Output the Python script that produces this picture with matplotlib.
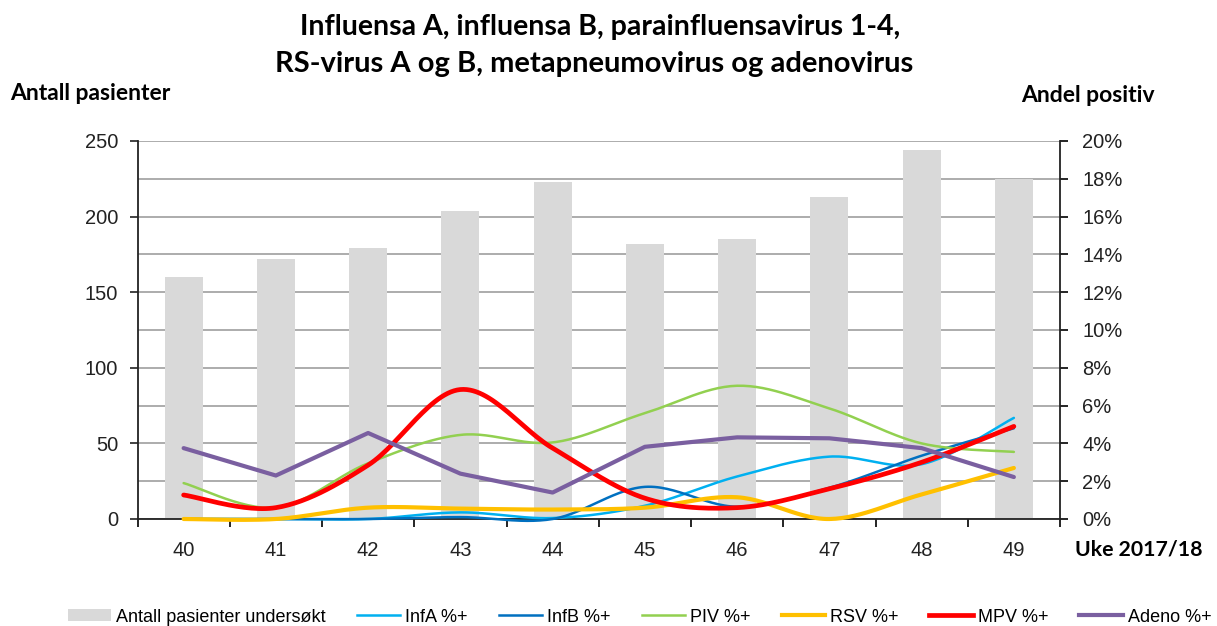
import numpy as np
import matplotlib
matplotlib.use("Agg")
import matplotlib.pyplot as plt
from matplotlib.patches import Patch
from matplotlib.lines import Line2D

# weeks and number of patients tested (left axis)
weeks = ["40", "41", "42", "43", "44", "45", "46", "47", "48", "49"]
patients = [160, 172, 179, 204, 223, 182, 185, 213, 244, 225]

# share positive, percent (right axis)
infA = [0, 0, 0, 0.35, 0.05, 0.7, 2.25, 3.3, 2.9, 5.35]
infB = [0, 0, 0, 0.1, 0, 1.7, 0.65, 1.65, 3.35, 4.8]
piv = [1.9, 0.6, 2.95, 4.45, 4.05, 5.6, 7.05, 5.85, 4.0, 3.55]
rsv = [0, 0, 0.6, 0.55, 0.5, 0.6, 1.15, 0, 1.3, 2.7]
mpv = [1.27, 0.6, 2.85, 6.85, 3.75, 1.1, 0.6, 1.6, 3.0, 4.9]
adeno = [3.75, 2.3, 4.55, 2.4, 1.4, 3.82, 4.32, 4.27, 3.75, 2.22]

head_font = "Lato"
tick_font = "Liberation Sans"


def smooth(xs, ys, n=30):
    # excel style smoothed line (bezier through the points)
    pts = np.column_stack([xs, ys]).astype(float)
    padded = np.vstack([pts[0], pts, pts[-1]])
    t = np.linspace(0, 1, n)[:, None]
    out = []
    for i in range(len(pts) - 1):
        p0, p1, p2, p3 = padded[i:i + 4]
        c1 = p1 + (p2 - p0) / 6
        c2 = p2 - (p3 - p1) / 6
        seg = (1 - t) ** 3 * p1 + 3 * (1 - t) ** 2 * t * c1 + 3 * (1 - t) * t ** 2 * c2 + t ** 3 * p2
        out.append(seg if i == 0 else seg[1:])
    out = np.vstack(out)
    return out[:, 0], out[:, 1]


fig = plt.figure(figsize=(12.17, 6.26), dpi=100)
ax = fig.add_axes([137.5 / 1217, 1 - 519 / 626, (1060 - 137.5) / 1217, 378 / 626])
x = np.arange(len(weeks))

ax.bar(x, patients, width=0.41, color="#D9D9D9", zorder=2)
ax.set_xlim(-0.5, len(weeks) - 0.5)
ax.set_ylim(0, 250)
ax.set_yticks(range(0, 251, 50))
ax.set_yticks(range(25, 251, 50), minor=True)
ax.grid(True, axis="y", which="both", color="#A6A6A6", linewidth=1.3)
ax.set_axisbelow(True)
ax.tick_params(axis="y", which="major", direction="out", length=6, width=1.2, pad=8,
               labelsize=14.5, colors="#222222")
ax.tick_params(axis="y", which="minor", length=0)
for lab in ax.get_yticklabels():
    lab.set_fontfamily(tick_font)

# x ticks on category borders, labels in the middle
ax.set_xticks(np.arange(-0.5, len(weeks), 1.0))
ax.set_xticklabels([])
ax.set_xticks(x, minor=True)
ax.set_xticklabels(weeks, minor=True, fontsize=14.5, family=tick_font, color="#222222")
ax.tick_params(axis="x", which="major", direction="out", length=6, width=1.2)
ax.tick_params(axis="x", which="minor", length=0, pad=16)

ax.spines["top"].set_visible(False)
ax.spines["right"].set_visible(False)
for s in ["left", "bottom"]:
    ax.spines[s].set_linewidth(1.3)
    ax.spines[s].set_color("#222222")

ax2 = ax.twinx()
ax2.set_ylim(0, 20)
ax2.set_yticks(range(0, 21, 2))
ax2.set_yticklabels([f"{v}%" for v in range(0, 21, 2)], fontsize=14.5, family=tick_font, color="#222222")
ax2.tick_params(axis="y", direction="out", length=6, width=1.2, pad=10)
ax2.spines["top"].set_visible(False)
ax2.spines["left"].set_visible(False)
ax2.spines["bottom"].set_visible(False)
ax2.spines["right"].set_linewidth(1.3)
ax2.spines["right"].set_color("#222222")

series = [
    (infA, "#00B0F0", 1.8, True),
    (infB, "#0070C0", 1.8, True),
    (piv, "#92D050", 1.8, True),
    (rsv, "#FFC000", 3.0, True),
    (mpv, "#FF0000", 3.4, True),
    (adeno, "#7A5FA0", 3.0, False),
]
for vals, col, lw, sm in series:
    if sm:
        xs, ys = smooth(x, vals)
    else:
        xs, ys = x, vals
    ax2.plot(xs, ys, color=col, linewidth=lw, solid_capstyle="round",
             solid_joinstyle="round", clip_on=False, zorder=3)

# titles and axis names
fig.text(600 / 1217, 1 - 27 / 626, "Influensa A, influensa B, parainfluensavirus 1-4,",
         ha="center", va="center", fontsize=20.5, fontweight="bold", family=head_font)
fig.text(594 / 1217, 1 - 64 / 626, "RS-virus A og B, metapneumovirus og adenovirus",
         ha="center", va="center", fontsize=21, fontweight="bold", family=head_font)
fig.text(10 / 1217, 1 - 93 / 626, "Antall pasienter", ha="left", va="center",
         fontsize=16.5, fontweight="bold", family=head_font)
fig.text(1155 / 1217, 1 - 96 / 626, "Andel positiv", ha="right", va="center",
         fontsize=16.5, fontweight="bold", family=head_font)
fig.text(1075 / 1217, 1 - 549 / 626, "Uke 2017/18", ha="left", va="center",
         fontsize=15.3, fontweight="bold", family=head_font)

handles = [Patch(facecolor="#D9D9D9", edgecolor="none")]
labels = ["Antall pasienter undersøkt", "InfA %+", "InfB %+", "PIV %+", "RSV %+", "MPV %+", "Adeno %+"]
for vals, col, lw, sm in series:
    handles.append(Line2D([], [], color=col, linewidth=lw))
fig.legend(handles, labels, loc="center left", bbox_to_anchor=(55 / 1217, 1 - 617 / 626),
           ncol=7, frameon=False, handlelength=2.4, handleheight=0.6, handletextpad=0.3,
           columnspacing=1.7, borderpad=0.2, prop={"family": tick_font, "size": 13})

fig.savefig("out.png", dpi=100)
